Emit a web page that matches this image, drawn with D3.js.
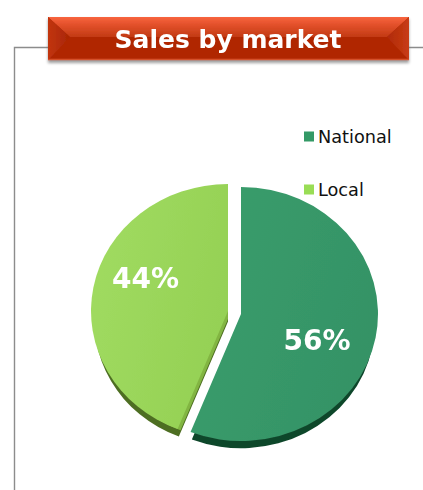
<!DOCTYPE html>
<html><head><meta charset="utf-8">
<script src="https://cdn.jsdelivr.net/npm/d3@7/dist/d3.min.js"></script>
<style>html,body{margin:0;padding:0;background:#fff;overflow:hidden}svg{display:block}</style>
</head><body><div id="c"></div>
<script>
const categories = ["National", "Local"];
const shares = [56, 44];
const labels = ["56%", "44%"];
const title = "Sales by market";
const topColors = [["#3a9d6c", "#349265"], ["#a0db60", "#94d054"]];
const sideColors = ["#11462c", "#4d6e22"];
const cutColor = "#82b542";
const legendColors = ["#339966", "#99dd55"];

const W = 423, H = 490;
const svg = d3.select("#c").append("svg").attr("width", W).attr("height", H);
const defs = svg.append("defs");
const blur = defs.append("filter").attr("id", "sh").attr("x", "-5%").attr("y", "-20%").attr("width", "110%").attr("height", "150%");
blur.append("feGaussianBlur").attr("stdDeviation", 1.6);
const soft = defs.append("filter").attr("id", "soft").attr("x", "-5%").attr("y", "-5%").attr("width", "110%").attr("height", "110%");
soft.append("feGaussianBlur").attr("stdDeviation", 0.45);

topColors.forEach((c, i) => {
  const g = defs.append("linearGradient").attr("id", "g" + i)
    .attr("x1", "0").attr("y1", "0.3").attr("x2", "1").attr("y2", "0.7");
  g.append("stop").attr("offset", "0").attr("stop-color", c[0]);
  g.append("stop").attr("offset", "1").attr("stop-color", c[1]);
});

// frame
svg.append("path").attr("d", "M14.5 490V47.5H48M409 47.5H423").attr("fill", "none").attr("stroke", "#8c8c8c").attr("stroke-width", 1.4).attr("filter", "url(#soft)");

// banner
const bx = 48, by = 17, bw = 361, bh = 43, bev = 22;
svg.append("rect").attr("x", bx).attr("y", by + 2).attr("width", bw).attr("height", bh + 1).attr("fill", "#777").attr("opacity", .7).attr("filter", "url(#sh)");
const bg = defs.append("linearGradient").attr("id", "bt").attr("x1", 0).attr("x2", 0).attr("y1", 0).attr("y2", 1);
bg.append("stop").attr("offset", 0).attr("stop-color", "#f8653f");
bg.append("stop").attr("offset", .35).attr("stop-color", "#e5522c");
bg.append("stop").attr("offset", 1).attr("stop-color", "#c23a14");
const bs = defs.append("linearGradient").attr("id", "bl").attr("x1", 0).attr("x2", 1).attr("y1", 0).attr("y2", 0);
bs.append("stop").attr("offset", 0).attr("stop-color", "#c23510");
bs.append("stop").attr("offset", 1).attr("stop-color", "#a82604");
const br = defs.append("linearGradient").attr("id", "br").attr("x1", 0).attr("x2", 1).attr("y1", 0).attr("y2", 0);
br.append("stop").attr("offset", 0).attr("stop-color", "#b02a06");
br.append("stop").attr("offset", 1).attr("stop-color", "#c83c16");
const banner = svg.append("g").attr("filter", "url(#soft)");
banner.append("rect").attr("x", bx).attr("y", by).attr("width", bw).attr("height", bh).attr("fill", "#b02804");
banner.append("path").attr("d", `M${bx} ${by}H${bx + bw}L${bx + bw - bev} ${by + bev - 2}H${bx + bev}Z`).attr("fill", "url(#bt)");
banner.append("path").attr("d", `M${bx} ${by}L${bx + bev} ${by + bev - 2}L${bx} ${by + bh}Z`).attr("fill", "url(#bl)");
banner.append("path").attr("d", `M${bx + bw} ${by}L${bx + bw - bev} ${by + bev - 2}L${bx + bw} ${by + bh}Z`).attr("fill", "url(#br)");
banner.append("path").attr("d", `M${bx} ${by + bh - .5}H${bx + bw}`).attr("stroke", "#d6512c").attr("stroke-width", 1.5);
svg.append("text").attr("x", 228).attr("y", 48).attr("text-anchor", "middle").attr("filter", "url(#soft)")
  .attr("font-family", "DejaVu Sans").attr("font-weight", "bold").attr("font-size", 25).attr("fill", "#fff").text(title);

// pie
const pie = d3.pie().sort(null).value(d => d)(shares);
const R = 137, squash = 127 / 137;
const centers = [[241, 314], [228, 311]];
const root = svg.append("g").attr("filter", "url(#soft)");
const wedge = (p, r) => d3.arc().innerRadius(0).outerRadius(r)(p);
pie.forEach((p, i) => {
  const [cx, cy] = centers[i];
  const g = root.append("g");
  // side wall: a smaller copy moved down, so the rim tapers away up the sides
  g.append("path").attr("d", wedge(p, R - 3.5)).attr("fill", sideColors[i])
    .attr("transform", `translate(${cx},${cy + 10.5}) scale(1,${squash})`);
  if (i === 1) {
    g.append("path").attr("d", wedge(p, R - 8)).attr("fill", cutColor)
      .attr("transform", `translate(${cx},${cy + 8}) scale(1,${squash})`);
  }
  g.append("path").attr("d", wedge(p, R)).attr("fill", `url(#g${i})`)
    .attr("transform", `translate(${cx},${cy}) scale(1,${squash})`);
});
const lp = [[317, 350], [145.5, 288]];
labels.forEach((t, i) => {
  svg.append("text").attr("x", lp[i][0]).attr("y", lp[i][1]).attr("text-anchor", "middle").attr("filter", "url(#soft)")
    .attr("font-family", "DejaVu Sans").attr("font-weight", "bold").attr("font-size", 28).attr("fill", "#fff").text(t);
});

// legend
const ly = d3.scalePoint().domain(categories).range([136, 189]);
categories.forEach((c, i) => {
  svg.append("rect").attr("x", 304).attr("y", ly(c) - 4.5).attr("width", 10).attr("height", 10).attr("fill", legendColors[i]);
  svg.append("text").attr("x", 318).attr("y", ly(c) + 6.5)
    .attr("font-family", "DejaVu Sans").attr("font-size", 17.7).attr("fill", "#111").text(c);
});
</script></body></html>
